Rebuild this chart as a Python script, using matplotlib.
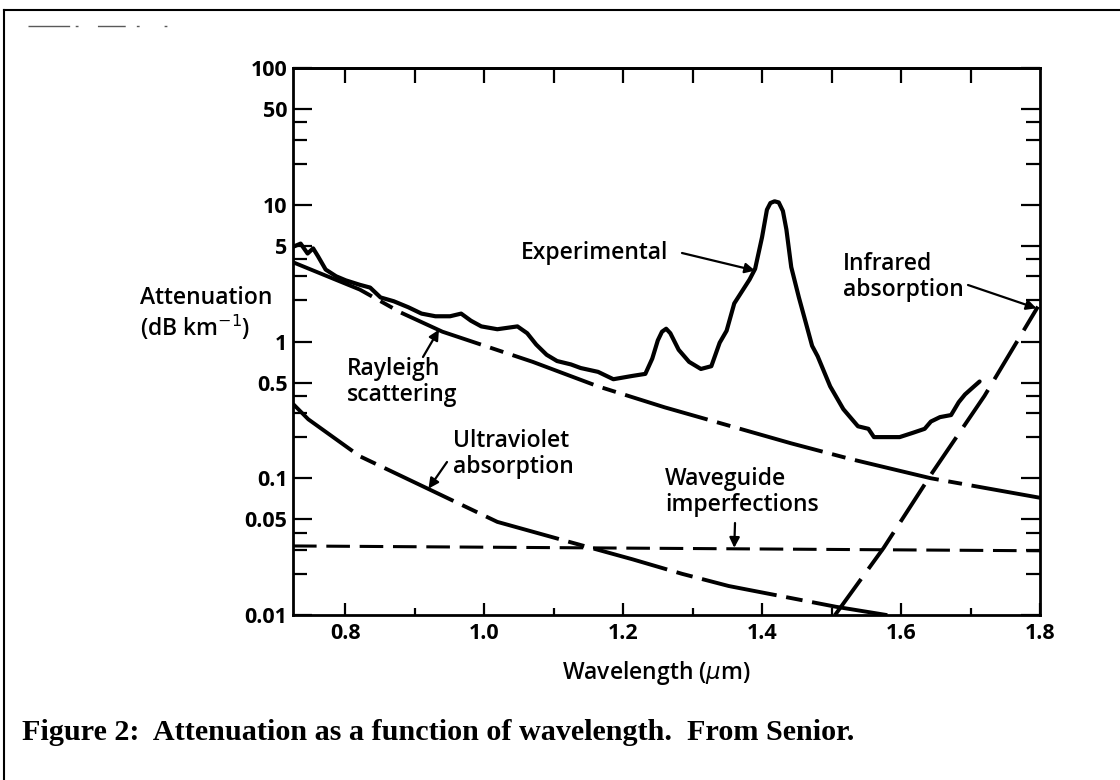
import matplotlib
matplotlib.use('Agg')
import matplotlib.pyplot as plt
from matplotlib.lines import Line2D
from matplotlib.ticker import FixedLocator, NullFormatter

plt.rcParams['font.family'] = ['Open Sans', 'DejaVu Sans']
plt.rcParams['lines.scale_dashes'] = False

# experimental attenuation curve (um, dB/km)
exp_wl = [0.724, 0.736, 0.746, 0.754, 0.761, 0.772, 0.787, 0.801, 0.821, 0.836,
          0.851, 0.870, 0.891, 0.910, 0.930, 0.951, 0.967, 0.981, 0.996, 1.019,
          1.048, 1.062, 1.075, 1.090, 1.105, 1.125, 1.139, 1.164, 1.186, 1.213,
          1.232, 1.242, 1.250, 1.256, 1.262, 1.268, 1.280, 1.295, 1.312, 1.327,
          1.339, 1.349, 1.360, 1.382, 1.390, 1.400, 1.407, 1.412, 1.418, 1.424,
          1.430, 1.435, 1.442, 1.453, 1.463, 1.472, 1.480, 1.498, 1.517, 1.538,
          1.553, 1.561, 1.577, 1.598, 1.617, 1.634, 1.643, 1.656, 1.672, 1.683,
          1.692, 1.703, 1.713]
exp_att = [4.9, 5.2, 4.4, 4.8, 4.2, 3.36, 3.0, 2.8, 2.6, 2.48,
           2.1, 1.97, 1.78, 1.6, 1.53, 1.53, 1.6, 1.42, 1.29, 1.23,
           1.29, 1.15, 0.95, 0.80, 0.72, 0.68, 0.64, 0.60, 0.53, 0.56,
           0.58, 0.75, 1.02, 1.18, 1.24, 1.15, 0.87, 0.71, 0.63, 0.66,
           0.98, 1.2, 1.9, 2.84, 3.4, 5.8, 9.2, 10.3, 10.6, 10.4,
           9.0, 6.6, 3.5, 2.1, 1.37, 0.93, 0.78, 0.47, 0.32, 0.24,
           0.23, 0.20, 0.20, 0.20, 0.215, 0.23, 0.26, 0.28, 0.29, 0.36,
           0.41, 0.46, 0.51]

ray_wl = [0.725, 0.821, 0.88, 0.94, 1.07, 1.164, 1.26, 1.442, 1.528, 1.643, 1.8]
ray_att = [3.8, 2.4, 1.63, 1.18, 0.71, 0.47, 0.33, 0.18, 0.138, 0.10, 0.072]

uv_wl = [0.725, 0.747, 0.821, 0.921, 1.019, 1.125, 1.213, 1.285, 1.352, 1.506, 1.59]
uv_att = [0.35, 0.27, 0.145, 0.083, 0.048, 0.034, 0.0256, 0.020, 0.0163, 0.0115, 0.0098]

wg_wl = [0.725, 1.8]
wg_att = [0.032, 0.0295]

ir_wl = [1.505, 1.575, 1.645, 1.72, 1.797]
ir_att = [0.01, 0.031, 0.11, 0.40, 1.8]

x_major = [0.8, 1.0, 1.2, 1.4, 1.6, 1.8]
x_labels = ['0.8', '1.0', '1.2', '1.4', '1.6', '1.8']
x_minor = [0.9, 1.1, 1.3, 1.5, 1.7]
x_top = [0.8, 0.9, 1.0, 1.1, 1.2, 1.3, 1.4, 1.5, 1.6, 1.7]
y_major = [0.01, 0.05, 0.1, 0.5, 1, 5, 10, 50, 100]
y_labels = ['0.01', '0.05', '0.1', '0.5', '1', '5', '10', '50', '100']
y_minor = [0.02, 0.03, 0.04, 0.2, 0.3, 0.4, 2, 3, 4, 20, 30, 40]

W, H = 1120, 780


def fpx(x, y):
    # pixel position (from top-left) -> figure fraction
    return (x / W, 1 - y / H)


fig = plt.figure(figsize=(11.2, 7.8), dpi=100)
ax = fig.add_axes([0.2616, 0.2115, 0.6670, 0.7013])
ax.set_yscale('log')
ax.set_xlim(0.725, 1.8)
ax.set_ylim(0.01, 100)

ax.plot(exp_wl, exp_att, color='black', lw=3.0, solid_joinstyle='round', solid_capstyle='round')
ax.plot(ray_wl, ray_att, color='black', lw=2.8, dashes=(62, 7, 10, 7))
ax.plot(uv_wl, uv_att, color='black', lw=2.8, dashes=(55, 7, 12, 7))
ax.plot(wg_wl, wg_att, color='black', lw=2.2, dashes=(17, 7))
ax.plot(ir_wl, ir_att, color='black', lw=2.8, dashes=(32, 9))

for s in ax.spines.values():
    s.set_linewidth(2.0)

ax.xaxis.set_major_locator(FixedLocator(x_major))
ax.xaxis.set_minor_locator(FixedLocator(x_minor))
ax.set_xticklabels(x_labels)
ax.yaxis.set_major_locator(FixedLocator(y_major))
ax.yaxis.set_minor_locator(FixedLocator(y_minor))
ax.yaxis.set_minor_formatter(NullFormatter())
ax.set_yticklabels(y_labels)

ax.tick_params(axis='x', which='major', direction='in', length=9, width=1.6,
               top=False, labelsize=15.5, pad=6)
ax.tick_params(axis='x', which='minor', direction='in', length=5, width=1.6, top=False)
ax.tick_params(axis='y', which='major', direction='in', length=14, width=1.6,
               right=True, labelsize=15.5, pad=4)
ax.tick_params(axis='y', which='minor', direction='in', length=10, width=1.6, right=True)
for lab in ax.get_xticklabels() + ax.get_yticklabels():
    lab.set_fontweight('bold')

top = ax.secondary_xaxis('top')
top.set_xticks(x_top)
top.tick_params(direction='in', length=11, width=1.6, labeltop=False)
top.spines['top'].set_linewidth(2.0)

fs = 16.5
ax.set_xlabel('Wavelength ($\\mu$m)', fontsize=fs, fontweight='semibold')
ax.xaxis.set_label_coords(0.487, -0.106)
ax.xaxis.label.set_va('center')

fig.text(*fpx(140, 314), 'Attenuation\n(dB km$^{-1}$)', fontsize=fs, ha='left',
         va='center', linespacing=1.1, fontweight='semibold')

arrow = dict(arrowstyle='-|>', color='black', lw=1.6, mutation_scale=15,
             shrinkA=0, shrinkB=0)

fig.text(*fpx(668, 253), 'Experimental', fontsize=fs, ha='right', va='center',
         fontweight='semibold')
ax.annotate('', xy=(1.39, 3.3), xytext=fpx(682, 253),
            textcoords='figure fraction', arrowprops=arrow)

fig.text(*fpx(843, 277), 'Infrared\nabsorption', fontsize=fs, ha='left',
         va='center', linespacing=1.1, fontweight='semibold')
ax.annotate('', xy=(1.795, 1.75), xytext=fpx(968, 285),
            textcoords='figure fraction', arrowprops=arrow)

fig.text(*fpx(347, 382), 'Rayleigh\nscattering', fontsize=fs, ha='left',
         va='center', linespacing=1.1, fontweight='semibold')
ax.annotate('', xy=(0.935, 1.22), xytext=fpx(423, 357),
            textcoords='figure fraction', arrowprops=arrow)

fig.text(*fpx(453, 454), 'Ultraviolet\nabsorption', fontsize=fs, ha='left',
         va='center', linespacing=1.1, fontweight='semibold')
ax.annotate('', xy=(0.92, 0.084), xytext=fpx(447, 462),
            textcoords='figure fraction', arrowprops=arrow)

fig.text(*fpx(665, 492), 'Waveguide\nimperfections', fontsize=fs, ha='left',
         va='center', linespacing=1.1, fontweight='semibold')
ax.annotate('', xy=(1.36, 0.031), xytext=fpx(735, 523),
            textcoords='figure fraction', arrowprops=arrow)

fig.text(*fpx(22, 733), 'Figure 2:  Attenuation as a function of wavelength.  From Senior.',
         fontsize=21.7, fontweight='bold', family='Liberation Serif', ha='left', va='center')

# scanned page frame and the faint scan marks at the top
fig.add_artist(Line2D([0.004, 0.004], [0.0, 0.987], color='black', lw=1.5))
fig.add_artist(Line2D([0.004, 1.0], [0.987, 0.987], color='black', lw=1.5))
fig.add_artist(Line2D([28 / W, 220 / W], [1 - 26 / H, 1 - 26 / H], color='0.35',
                      lw=1.0, dashes=(30, 4, 2, 14, 20, 8, 2, 18, 2, 40)))

fig.savefig('out.png', dpi=100)
